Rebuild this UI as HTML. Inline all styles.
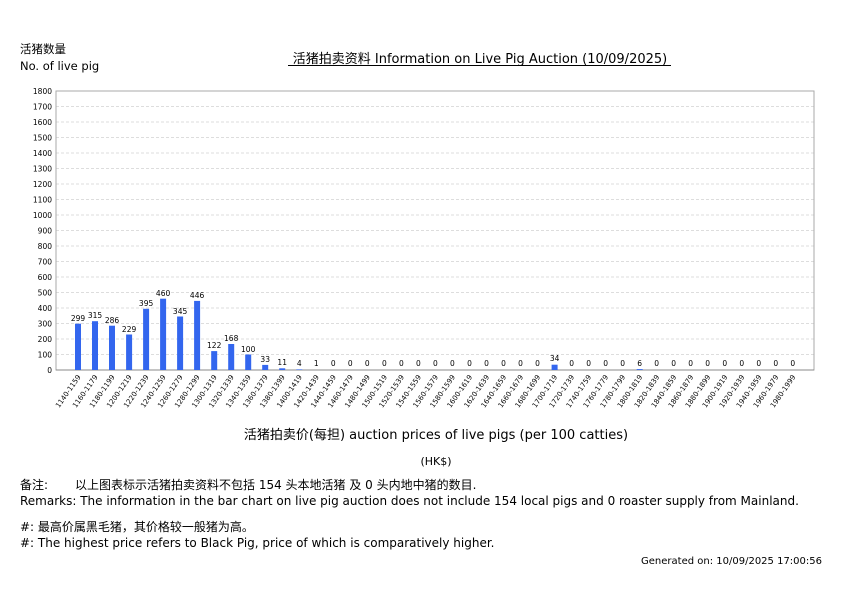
<!DOCTYPE html>
<html><head><meta charset="utf-8"><style>
body{margin:0;background:#fff;}
svg{display:block;font-family:"DejaVu Sans","Noto Sans CJK SC",sans-serif;}
</style></head><body>
<svg width="842" height="595" viewBox="0 0 842 595" xmlns="http://www.w3.org/2000/svg">
<rect width="842" height="595" fill="#fff"/>
<text x="20" y="53" font-size="11.5" fill="#000">活猪数量</text>
<text x="20" y="70" font-size="11.5" fill="#000">No. of live pig</text>
<text x="480" y="63" font-size="13" text-anchor="middle" fill="#000">活猪拍卖资料 Information on Live Pig Auction (10/09/2025)</text>
<line x1="288" y1="65.5" x2="671" y2="65.5" stroke="#000" stroke-width="1"/>
<g stroke="#ddd" stroke-dasharray="3,2" stroke-width="1">
<line x1="56" x2="814" y1="354.5" y2="354.5"/><line x1="56" x2="814" y1="339" y2="339"/><line x1="56" x2="814" y1="323.5" y2="323.5"/><line x1="56" x2="814" y1="308" y2="308"/><line x1="56" x2="814" y1="292.5" y2="292.5"/><line x1="56" x2="814" y1="277" y2="277"/><line x1="56" x2="814" y1="261.5" y2="261.5"/><line x1="56" x2="814" y1="246" y2="246"/><line x1="56" x2="814" y1="230.5" y2="230.5"/><line x1="56" x2="814" y1="215" y2="215"/><line x1="56" x2="814" y1="199.5" y2="199.5"/><line x1="56" x2="814" y1="184" y2="184"/><line x1="56" x2="814" y1="168.5" y2="168.5"/><line x1="56" x2="814" y1="153" y2="153"/><line x1="56" x2="814" y1="137.5" y2="137.5"/><line x1="56" x2="814" y1="122" y2="122"/><line x1="56" x2="814" y1="106.5" y2="106.5"/>
</g>
<rect x="56" y="91" width="758" height="279" fill="none" stroke="#aaa" stroke-width="1"/>
<line x1="56" y1="370" x2="814" y2="370" stroke="#888"/>
<g font-size="7.5" text-anchor="end" fill="#000">
<text x="52" y="373">0</text><text x="52" y="357.5">100</text><text x="52" y="342">200</text><text x="52" y="326.5">300</text><text x="52" y="311">400</text><text x="52" y="295.5">500</text><text x="52" y="280">600</text><text x="52" y="264.5">700</text><text x="52" y="249">800</text><text x="52" y="233.5">900</text><text x="52" y="218">1000</text><text x="52" y="202.5">1100</text><text x="52" y="187">1200</text><text x="52" y="171.5">1300</text><text x="52" y="156">1400</text><text x="52" y="140.5">1500</text><text x="52" y="125">1600</text><text x="52" y="109.5">1700</text><text x="52" y="94">1800</text>
</g>
<g fill="#3366ee">
<rect x="75" y="323.7" width="6" height="46.3"/><rect x="92" y="321.2" width="6" height="48.8"/><rect x="109" y="325.7" width="6" height="44.3"/><rect x="126.1" y="334.5" width="6" height="35.5"/><rect x="143.1" y="308.8" width="6" height="61.2"/><rect x="160.1" y="298.7" width="6" height="71.3"/><rect x="177.1" y="316.5" width="6" height="53.5"/><rect x="194.1" y="300.9" width="6" height="69.1"/><rect x="211.2" y="351.1" width="6" height="18.9"/><rect x="228.2" y="344" width="6" height="26"/><rect x="245.2" y="354.5" width="6" height="15.5"/><rect x="262.2" y="364.9" width="6" height="5.1"/><rect x="279.2" y="368.3" width="6" height="1.7"/><rect x="296.3" y="369.4" width="6" height="0.6"/><rect x="551.6" y="364.7" width="6" height="5.3"/><rect x="636.7" y="369.1" width="6" height="0.9"/>
</g>
<g font-size="7.5" text-anchor="middle" fill="#000">
<text x="78" y="321">299</text><text x="95" y="318">315</text><text x="112" y="323">286</text><text x="129.1" y="332">229</text><text x="146.1" y="306">395</text><text x="163.1" y="296">460</text><text x="180.1" y="314">345</text><text x="197.1" y="298">446</text><text x="214.2" y="348">122</text><text x="231.2" y="341">168</text><text x="248.2" y="352">100</text><text x="265.2" y="362">33</text><text x="282.2" y="365">11</text><text x="299.3" y="366">4</text><text x="316.3" y="366">1</text><text x="333.3" y="366">0</text><text x="350.3" y="366">0</text><text x="367.3" y="366">0</text><text x="384.4" y="366">0</text><text x="401.4" y="366">0</text><text x="418.4" y="366">0</text><text x="435.4" y="366">0</text><text x="452.4" y="366">0</text><text x="469.5" y="366">0</text><text x="486.5" y="366">0</text><text x="503.5" y="366">0</text><text x="520.5" y="366">0</text><text x="537.5" y="366">0</text><text x="554.6" y="361">34</text><text x="571.6" y="366">0</text><text x="588.6" y="366">0</text><text x="605.6" y="366">0</text><text x="622.6" y="366">0</text><text x="639.7" y="366">6</text><text x="656.7" y="366">0</text><text x="673.7" y="366">0</text><text x="690.7" y="366">0</text><text x="707.7" y="366">0</text><text x="724.8" y="366">0</text><text x="741.8" y="366">0</text><text x="758.8" y="366">0</text><text x="775.8" y="366">0</text><text x="792.8" y="366">0</text>
</g>
<g font-size="7" text-anchor="end" fill="#000">
<text transform="translate(81,377) rotate(-55)">1140-1159</text><text transform="translate(98,377) rotate(-55)">1160-1179</text><text transform="translate(115,377) rotate(-55)">1180-1199</text><text transform="translate(132.1,377) rotate(-55)">1200-1219</text><text transform="translate(149.1,377) rotate(-55)">1220-1239</text><text transform="translate(166.1,377) rotate(-55)">1240-1259</text><text transform="translate(183.1,377) rotate(-55)">1260-1279</text><text transform="translate(200.1,377) rotate(-55)">1280-1299</text><text transform="translate(217.2,377) rotate(-55)">1300-1319</text><text transform="translate(234.2,377) rotate(-55)">1320-1339</text><text transform="translate(251.2,377) rotate(-55)">1340-1359</text><text transform="translate(268.2,377) rotate(-55)">1360-1379</text><text transform="translate(285.2,377) rotate(-55)">1380-1399</text><text transform="translate(302.3,377) rotate(-55)">1400-1419</text><text transform="translate(319.3,377) rotate(-55)">1420-1439</text><text transform="translate(336.3,377) rotate(-55)">1440-1459</text><text transform="translate(353.3,377) rotate(-55)">1460-1479</text><text transform="translate(370.3,377) rotate(-55)">1480-1499</text><text transform="translate(387.4,377) rotate(-55)">1500-1519</text><text transform="translate(404.4,377) rotate(-55)">1520-1539</text><text transform="translate(421.4,377) rotate(-55)">1540-1559</text><text transform="translate(438.4,377) rotate(-55)">1560-1579</text><text transform="translate(455.4,377) rotate(-55)">1580-1599</text><text transform="translate(472.5,377) rotate(-55)">1600-1619</text><text transform="translate(489.5,377) rotate(-55)">1620-1639</text><text transform="translate(506.5,377) rotate(-55)">1640-1659</text><text transform="translate(523.5,377) rotate(-55)">1660-1679</text><text transform="translate(540.5,377) rotate(-55)">1680-1699</text><text transform="translate(557.6,377) rotate(-55)">1700-1719</text><text transform="translate(574.6,377) rotate(-55)">1720-1739</text><text transform="translate(591.6,377) rotate(-55)">1740-1759</text><text transform="translate(608.6,377) rotate(-55)">1760-1779</text><text transform="translate(625.6,377) rotate(-55)">1780-1799</text><text transform="translate(642.7,377) rotate(-55)">1800-1819</text><text transform="translate(659.7,377) rotate(-55)">1820-1839</text><text transform="translate(676.7,377) rotate(-55)">1840-1859</text><text transform="translate(693.7,377) rotate(-55)">1860-1879</text><text transform="translate(710.7,377) rotate(-55)">1880-1899</text><text transform="translate(727.8,377) rotate(-55)">1900-1919</text><text transform="translate(744.8,377) rotate(-55)">1920-1939</text><text transform="translate(761.8,377) rotate(-55)">1940-1959</text><text transform="translate(778.8,377) rotate(-55)">1960-1979</text><text transform="translate(795.8,377) rotate(-55)">1980-1999</text>
</g>
<text x="436" y="439" font-size="13" text-anchor="middle" fill="#000">活猪拍卖价(每担) auction prices of live pigs (per 100 catties)</text>
<text x="436" y="465" font-size="11" text-anchor="middle" fill="#000">(HK$)</text>
<text x="20" y="489" font-size="12" fill="#000">备注:</text>
<text x="75" y="489" font-size="12" fill="#000">以上图表标示活猪拍卖资料不包括 154 头本地活猪 及 0 头内地中猪的数目.</text>
<text x="20" y="505" font-size="12" fill="#000">Remarks: The information in the bar chart on live pig auction does not include 154 local pigs and 0 roaster supply from Mainland.</text>
<text x="20" y="531" font-size="12" fill="#000">#: 最高价属黑毛猪，其价格较一般猪为高。</text>
<text x="20" y="547" font-size="12" fill="#000">#: The highest price refers to Black Pig, price of which is comparatively higher.</text>
<text x="822" y="564" font-size="10" text-anchor="end" fill="#000">Generated on: 10/09/2025 17:00:56</text>
</svg>
</body></html>
